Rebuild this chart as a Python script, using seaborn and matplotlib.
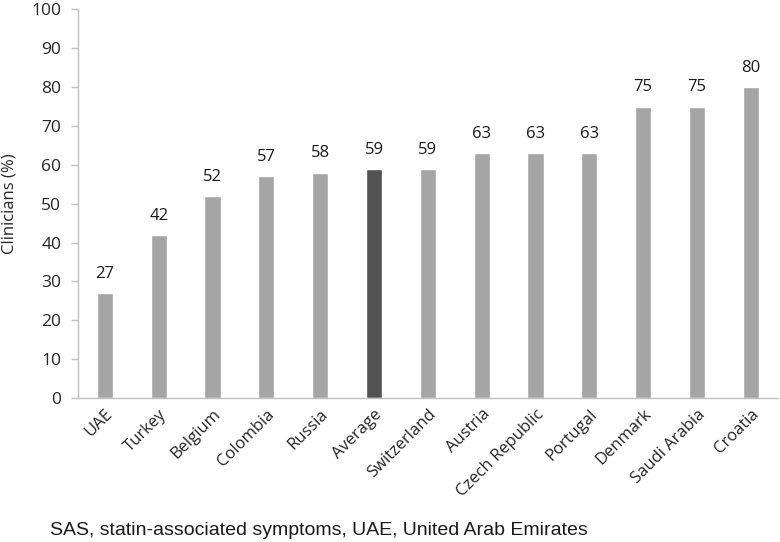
import pandas as pd
import seaborn as sns
import matplotlib.pyplot as plt

# Data
countries = ['UAE', 'Turkey', 'Belgium', 'Colombia', 'Russia', 'Average', 'Switzerland',
             'Austria', 'Czech Republic', 'Portugal', 'Denmark', 'Saudi Arabia', 'Croatia']
clinicians = [27, 42, 52, 57, 58, 59, 59, 63, 63, 63, 75, 75, 80]

df = pd.DataFrame({'country': countries, 'pct': clinicians})
df['kind'] = ['avg' if c == 'Average' else 'country' for c in countries]

sns.set_style('white')
plt.rcParams['font.family'] = ['Open Sans', 'DejaVu Sans']

fig = plt.figure(figsize=(7.8, 5.42), dpi=100)
ax = fig.add_axes([0.1, 0.2657, 0.897, 0.717])

sns.barplot(data=df, x='country', y='pct', hue='kind', dodge=False, width=0.3,
            palette={'country': '#A5A5A5', 'avg': '#525252'}, legend=False, ax=ax)

for container in ax.containers:
    ax.bar_label(container, padding=8, fontsize=12, color='#1a1a1a')

ax.set_ylim(0, 100)
ax.set_yticks(range(0, 101, 10))
ax.set_xlim(-0.5, len(countries) - 0.5)
ax.set_xlabel('')
ax.set_ylabel('Clinicians (%)', fontsize=12)
ax.yaxis.set_label_coords(-0.086, 0.5)
ax.tick_params(axis='y', labelsize=12.5, length=5, color='#BFBFBF', width=1, direction='out', left=True, pad=7)
ax.tick_params(axis='x', labelsize=12, length=0, pad=6)
plt.setp(ax.get_xticklabels(), rotation=45, ha='right', rotation_mode='anchor')

sns.despine(ax=ax)
for s in ['left', 'bottom']:
    ax.spines[s].set_color('#BFBFBF')
    ax.spines[s].set_linewidth(1)

fig.text(0.064, 0.012, 'SAS, statin-associated symptoms, UAE, United Arab Emirates',
         fontsize=14, family='Liberation Sans', color='#1a1a1a')

fig.savefig('out.png', dpi=100)
